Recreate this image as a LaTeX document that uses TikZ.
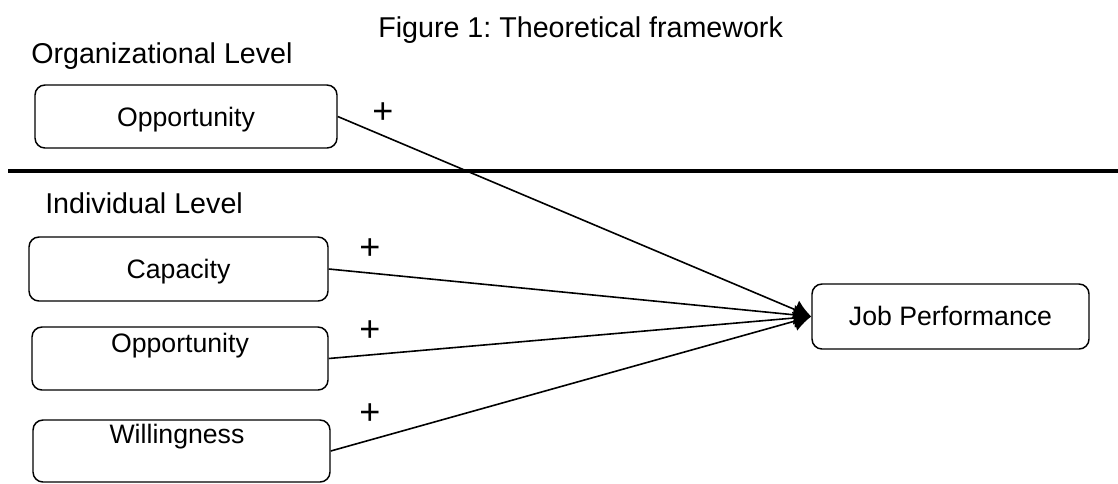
\documentclass[tikz,border=0pt]{standalone}
\usepackage{fontspec}
\setmainfont{Liberation Sans}
\usetikzlibrary{arrows.meta}
\frenchspacing
\begin{document}
\begin{tikzpicture}[x=0.75pt,y=-0.75pt,
  box/.style={draw,line width=1.1pt,rounded corners=7.5pt,inner sep=0pt},
  head/.style={font=\fontsize{21.5}{24}\selectfont,inner sep=0pt,anchor=base west},
  lbl/.style={font=\fontsize{20}{22}\selectfont,inner sep=0pt,anchor=base},
  conn/.style={line width=1.2pt,-{Latex[length=13pt,width=15pt]}},
  plus/.style={font=\fontsize{27}{30}\selectfont,inner sep=0pt}]
\useasboundingbox (0,0) rectangle (1118,483);
% titles
\node[head] (title) at (378,37) {Figure 1: Theoretical framework};
\node[head] (org) at (31,63) {Organizational Level};
\node[head] (ind) at (45,213) {Individual Level};
% divider
\coordinate (d1) at (8,171);
\coordinate (d2) at (1118,171);
\draw[line width=2.4pt] (d1) -- (d2);
% boxes
\node[box,minimum width=226.5pt,minimum height=47.25pt] (oo) at (186,116.5) {};
\node[lbl] (oot) at (186,126) {Opportunity};
\node[box,minimum width=224.25pt,minimum height=48pt] (cap) at (178.5,269) {};
\node[lbl] (capt) at (178.5,278.5) {Capacity};
\node[box,minimum width=222pt,minimum height=47.25pt] (opp) at (180,358.5) {};
\node[lbl] (oppt) at (180,352) {Opportunity};
\node[box,minimum width=222.75pt,minimum height=46.5pt] (wil) at (181.5,451) {};
\node[lbl] (wilt) at (177,443) {Willingness};
\node[box,minimum width=207.75pt,minimum height=48.75pt] (jp) at (950.5,316.5) {};
\node[lbl] (jpt) at (950.5,325.5) {Job Performance};
% connectors
\draw[conn] (oo.east) -- (jp.west);
\draw[conn] (cap.east) -- (jp.west);
\draw[conn] (opp.east) -- (jp.west);
\draw[conn] (wil.east) -- (jp.west);
% plus signs
\node[plus] (p1) at (383,113) {+};
\node[plus] (p2) at (370,249) {+};
\node[plus] (p3) at (370,331) {+};
\node[plus] (p4) at (370,414) {+};
\end{tikzpicture}
\end{document}
